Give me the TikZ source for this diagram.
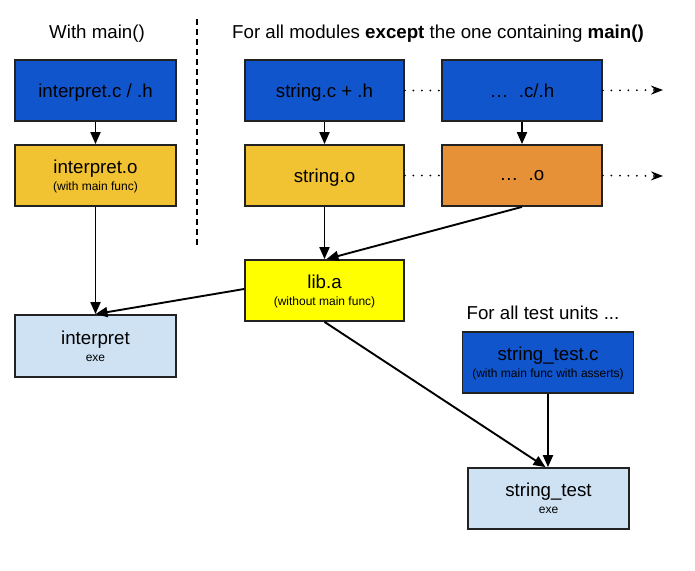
\documentclass[tikz,border=0pt]{standalone}
\usepackage{fontspec}
\setmainfont{Liberation Sans}
\usetikzlibrary{arrows.meta}
\definecolor{gblue}{HTML}{1155CC}
\definecolor{ggold}{HTML}{F1C232}
\definecolor{gorange}{HTML}{E69138}
\definecolor{gyellow}{HTML}{FFFF00}
\definecolor{glight}{HTML}{CFE2F3}
\definecolor{gborder}{HTML}{222222}
\newcommand{\subtxt}[1]{{\fontsize{12}{13}\selectfont #1}}
\tikzset{
  box/.style={draw=gborder, line width=1.8pt, rectangle, inner sep=0pt,
    minimum width=160pt, minimum height=61pt, align=center, text depth=0pt,
    font=\fontsize{18.7}{20}\selectfont},
  conn/.style={line width=1.9pt, -{Triangle[length=12pt,width=10pt]}},
  dots/.style={line width=2pt, line cap=round, dash pattern=on 0pt off 8.5pt},
  dotarrow/.style={dots, -{Stealth[length=12pt,width=9pt,inset=4pt]}},
  title/.style={font=\fontsize{18.7}{20}\selectfont, inner sep=0pt}
}
\begin{document}
\begin{tikzpicture}[x=1pt,y=-1pt]
\useasboundingbox (0,0) rectangle (695,570);
\node[title] (t1) at (97,34) {With main()};
\node[title, anchor=west] (t2) at (232,34) {For all modules \textbf{except} the one containing \textbf{main()}};
\node[title] (t3) at (543,313) {For all test units ...};
\coordinate (dA) at (197,19);
\coordinate (dB) at (197,248);
\draw[line width=1.8pt, dash pattern=on 6pt off 4pt] (dA) -- (dB);

\node[box, fill=gblue, minimum width=161pt] (ic) at (95.5,90.5) {interpret.c / .h};
\node[box, fill=ggold, minimum width=161pt] (io) at (95.5,175.5) {interpret.o\\[-3pt]\subtxt{(with main func)}};
\node[box, fill=gblue, minimum width=159pt] (sc) at (324.5,90.5) {string.c + .h};
\node[box, fill=gblue] (dc) at (522,90.5) {\dots\ \ .c/.h};
\node[box, fill=ggold, minimum width=159pt] (so) at (324.5,175.5) {string.o};
\node[box, fill=gorange] (do) at (522,175.5) {\dots\ \ .o};
\node[box, fill=gyellow, minimum width=159pt] (lib) at (324.5,290.5) {lib.a\\[-3pt]\subtxt{(without main func)}};
\node[box, fill=glight, minimum width=161pt, minimum height=62pt] (ie) at (95.5,346) {interpret\\[-3pt]\subtxt{exe}};
\node[box, fill=gblue, minimum width=171pt] (stc) at (548,362.5) {string\_test.c\\[-3pt]\subtxt{(with main func with asserts)}};
\node[box, fill=glight, minimum width=161pt] (ste) at (548.5,498.5) {string\_test\\[-3pt]\subtxt{exe}};

\coordinate (e1) at (663,90);
\coordinate (e2) at (663,176);
\draw[dots] (sc.east) -- (dc.west);
\draw[dots] (so.east) -- (do.west);
\draw[dotarrow] (dc.east) -- (e1);
\draw[dotarrow] (do.east) -- (e2);

\draw[conn] (ic.south) -- (io.north);
\draw[conn] (sc.south) -- (so.north);
\draw[conn] (dc.south) -- (do.north);
\draw[conn] (io.south) -- (ie.north);
\draw[conn] (so.south) -- (lib.north);
\draw[conn] (do.south) -- ([xshift=2pt]lib.north);
\draw[conn] ([yshift=1.5pt]lib.west) -- (ie.north);
\draw[conn] (lib.south) -- ([xshift=-3pt]ste.north);
\draw[conn] (stc.south) -- (stc.south |- ste.north);
\end{tikzpicture}
\end{document}
